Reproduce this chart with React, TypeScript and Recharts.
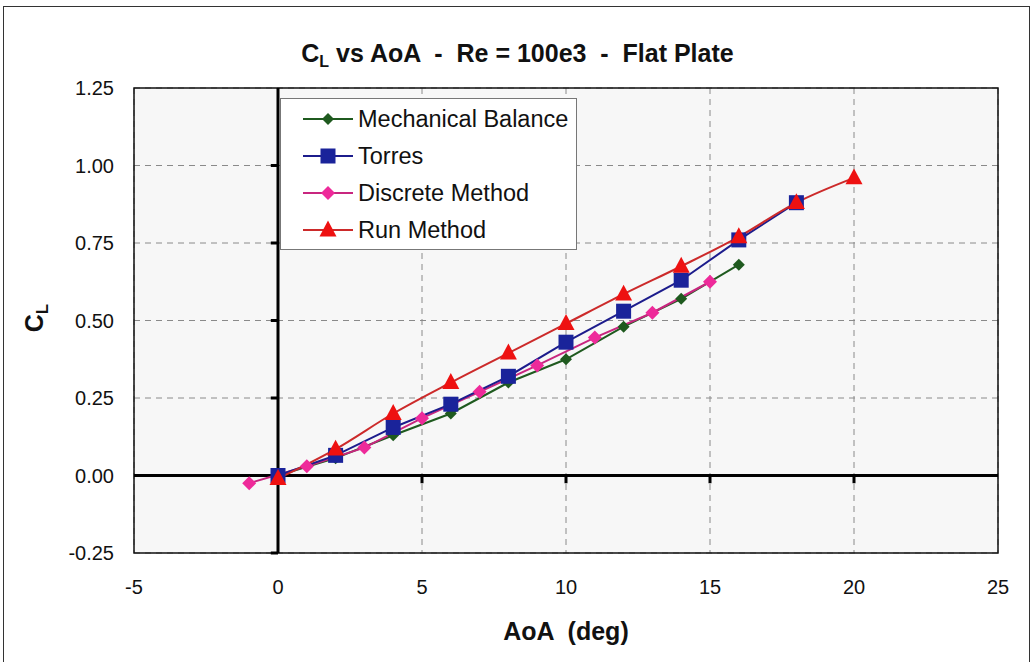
import React from 'react';
import {
  LineChart,
  Line,
  XAxis,
  YAxis,
  CartesianGrid,
  ReferenceLine,
  ReferenceArea,
} from 'recharts';

// AoA (deg) / CL readings per method
const mechAoa = [0, 2, 4, 6, 8, 10, 12, 14, 16];
const mechCl = [0.0, 0.056, 0.13, 0.2, 0.3, 0.375, 0.48, 0.57, 0.68];

const torresAoa = [0, 2, 4, 6, 8, 10, 12, 14, 16, 18];
const torresCl = [0.0, 0.065, 0.155, 0.23, 0.32, 0.43, 0.53, 0.63, 0.76, 0.88];

const discreteAoa = [-1, 1, 3, 5, 7, 9, 11, 13, 15];
const discreteCl = [-0.025, 0.03, 0.09, 0.185, 0.27, 0.355, 0.445, 0.525, 0.625];

const runAoa = [0, 2, 4, 6, 8, 10, 12, 14, 16, 18, 20];
const runCl = [-0.01, 0.085, 0.2, 0.3, 0.395, 0.49, 0.585, 0.675, 0.77, 0.88, 0.96];

const xTicks = [-5, 0, 5, 10, 15, 20, 25];
const yTicks = [-0.25, 0, 0.25, 0.5, 0.75, 1.0, 1.25];

const FONT = '"Liberation Sans", Arial, sans-serif';

const zip = (xs: number[], ys: number[]) => xs.map((x, i) => ({ x, y: ys[i] }));

const mechData = zip(mechAoa, mechCl);
const torresData = zip(torresAoa, torresCl);
const discreteData = zip(discreteAoa, discreteCl);
const runData = zip(runAoa, runCl);

type Shape = 'diamond' | 'square' | 'triangle';

const marker = (shape: Shape, cx: number, cy: number, fill: string, r: number, key?: string) => {
  if (shape === 'diamond') {
    return (
      <polygon key={key} points={`${cx},${cy - r} ${cx + r},${cy} ${cx},${cy + r} ${cx - r},${cy}`} fill={fill} />
    );
  }
  if (shape === 'square') {
    return <rect key={key} x={cx - r} y={cy - r} width={r * 2} height={r * 2} fill={fill} />;
  }
  return (
    <polygon key={key} points={`${cx},${cy - r - 1} ${cx + r},${cy + r * 0.75} ${cx - r},${cy + r * 0.75}`} fill={fill} />
  );
};

const dot = (shape: Shape, fill: string, r: number) => (props: any) => {
  const { cx, cy, index } = props;
  if (cx == null || cy == null) return <g key={`d${index}`} />;
  return marker(shape, cx, cy, fill, r, `d${index}`);
};

const series = [
  { name: 'Mechanical Balance', line: '#1f5a1f', fill: '#1f5a1f', shape: 'diamond' as Shape, r: 6 },
  { name: 'Torres', line: '#1c1c8c', fill: '#1a239a', shape: 'square' as Shape, r: 7.5 },
  { name: 'Discrete Method', line: '#c8267f', fill: '#ee2a9a', shape: 'diamond' as Shape, r: 7 },
  { name: 'Run Method', line: '#cc2a2a', fill: '#ee1111', shape: 'triangle' as Shape, r: 8.5 },
];

const LegendBox = () => (
  <div
    style={{
      position: 'absolute',
      left: 280,
      top: 98,
      width: 297,
      height: 152,
      background: '#fff',
      border: '1px solid #777',
      boxSizing: 'border-box',
      fontFamily: FONT,
    }}
  >
    {series.map((s, i) => (
      <div
        key={s.name}
        style={{ position: 'absolute', left: 0, top: 6 + i * 37, height: 28, display: 'flex', alignItems: 'center' }}
      >
        <svg width={56} height={20} style={{ marginLeft: 20 }}>
          <line x1={2} y1={10} x2={52} y2={10} stroke={s.line} strokeWidth={2} />
          {marker(s.shape, 27, 10, s.fill, s.r)}
        </svg>
        <span style={{ fontSize: 23.5, color: '#111', marginLeft: 1, whiteSpace: 'nowrap' }}>{s.name}</span>
      </div>
    ))}
  </div>
);

const xTickMarks = [5, 10, 15, 20];
const yTickMarks = [-0.25, 0.25, 0.5, 0.75, 1.0];

export default function App() {
  return (
    <div
      style={{
        position: 'absolute',
        left: 0,
        top: 0,
        width: 1035,
        height: 662,
        background: '#fff',
        fontFamily: FONT,
        overflow: 'hidden',
      }}
    >
      <div
        style={{
          position: 'absolute',
          left: 3,
          top: 6,
          width: 1027,
          height: 660,
          border: '1.5px solid #333',
          boxSizing: 'border-box',
        }}
      />
      <div
        style={{
          position: 'absolute',
          left: 0,
          width: 1035,
          top: 39,
          lineHeight: '28px',
          textAlign: 'center',
          fontSize: 25,
          fontWeight: 'bold',
          color: '#111',
          whiteSpace: 'pre',
        }}
      >
        C<sub style={{ fontSize: 16, verticalAlign: '-5px', lineHeight: 0 }}>L</sub>{' vs AoA  -  Re = 100e3  -  Flat Plate'}
      </div>
      <div
        style={{
          position: 'absolute',
          left: -16,
          top: 298,
          width: 100,
          height: 40,
          lineHeight: '40px',
          textAlign: 'center',
          transform: 'rotate(-90deg)',
          fontSize: 25,
          fontWeight: 'bold',
          color: '#111',
        }}
      >
        C<sub style={{ fontSize: 17, verticalAlign: '-5px', lineHeight: 0 }}>L</sub>
      </div>
      <div
        style={{
          position: 'absolute',
          left: 134,
          width: 864,
          top: 617,
          lineHeight: '28px',
          textAlign: 'center',
          fontSize: 25,
          fontWeight: 'bold',
          color: '#111',
          whiteSpace: 'pre',
        }}
      >
        {'AoA  (deg)'}
      </div>
      <div style={{ position: 'absolute', left: 0, top: 0 }}>
        <LineChart
          width={1035}
          height={662}
          margin={{ top: 88, right: 37, bottom: 79, left: 54 }}
        >
          <CartesianGrid
            stroke="#8a8a8a"
            strokeDasharray="6 5"
            fill="#f7f7f7"
            horizontalValues={yTicks}
            verticalValues={xTicks}
          />
          <XAxis
            type="number"
            dataKey="x"
            domain={[-5, 25]}
            ticks={xTicks}
            allowDataOverflow
            axisLine={false}
            tickLine={false}
            tickMargin={21}
            height={30}
            tick={{ fontSize: 20, fill: '#111', fontFamily: FONT }}
          />
          <YAxis
            type="number"
            dataKey="y"
            domain={[-0.25, 1.25]}
            ticks={yTicks}
            allowDataOverflow
            axisLine={false}
            tickLine={false}
            tickMargin={14}
            width={80}
            tickFormatter={(v: number) => v.toFixed(2)}
            tick={{ fontSize: 20, fill: '#111', fontFamily: FONT }}
          />
          <ReferenceArea
            x1={-5}
            x2={25}
            y1={-0.25}
            y2={1.25}
            fill="none"
            stroke="#111"
            strokeWidth={1.5}
            ifOverflow="visible"
          />
          <ReferenceLine x={0} stroke="#000" strokeWidth={3} />
          <ReferenceLine y={0} stroke="#000" strokeWidth={3} />
          {xTickMarks.map((t) => (
            <ReferenceLine
              key={`xt${t}`}
              segment={[{ x: t, y: 0 }, { x: t, y: -0.025 }]}
              stroke="#000"
              strokeWidth={3}
            />
          ))}
          {yTickMarks.map((t) => (
            <ReferenceLine
              key={`yt${t}`}
              segment={[{ x: 0, y: t }, { x: -0.25, y: t }]}
              stroke="#000"
              strokeWidth={3}
            />
          ))}
          <Line
            data={mechData}
            dataKey="y"
            name={series[0].name}
            type="linear"
            stroke={series[0].line}
            strokeWidth={2}
            dot={dot('diamond', series[0].fill, series[0].r)}
            isAnimationActive={false}
          />
          <Line
            data={discreteData}
            dataKey="y"
            name={series[2].name}
            type="linear"
            stroke={series[2].line}
            strokeWidth={2}
            dot={dot('diamond', series[2].fill, series[2].r)}
            isAnimationActive={false}
          />
          <Line
            data={torresData}
            dataKey="y"
            name={series[1].name}
            type="linear"
            stroke={series[1].line}
            strokeWidth={2}
            dot={dot('square', series[1].fill, series[1].r)}
            isAnimationActive={false}
          />
          <Line
            data={runData}
            dataKey="y"
            name={series[3].name}
            type="monotone"
            stroke={series[3].line}
            strokeWidth={2}
            dot={dot('triangle', series[3].fill, series[3].r)}
            isAnimationActive={false}
          />
        </LineChart>
      </div>
      <LegendBox />
    </div>
  );
}
